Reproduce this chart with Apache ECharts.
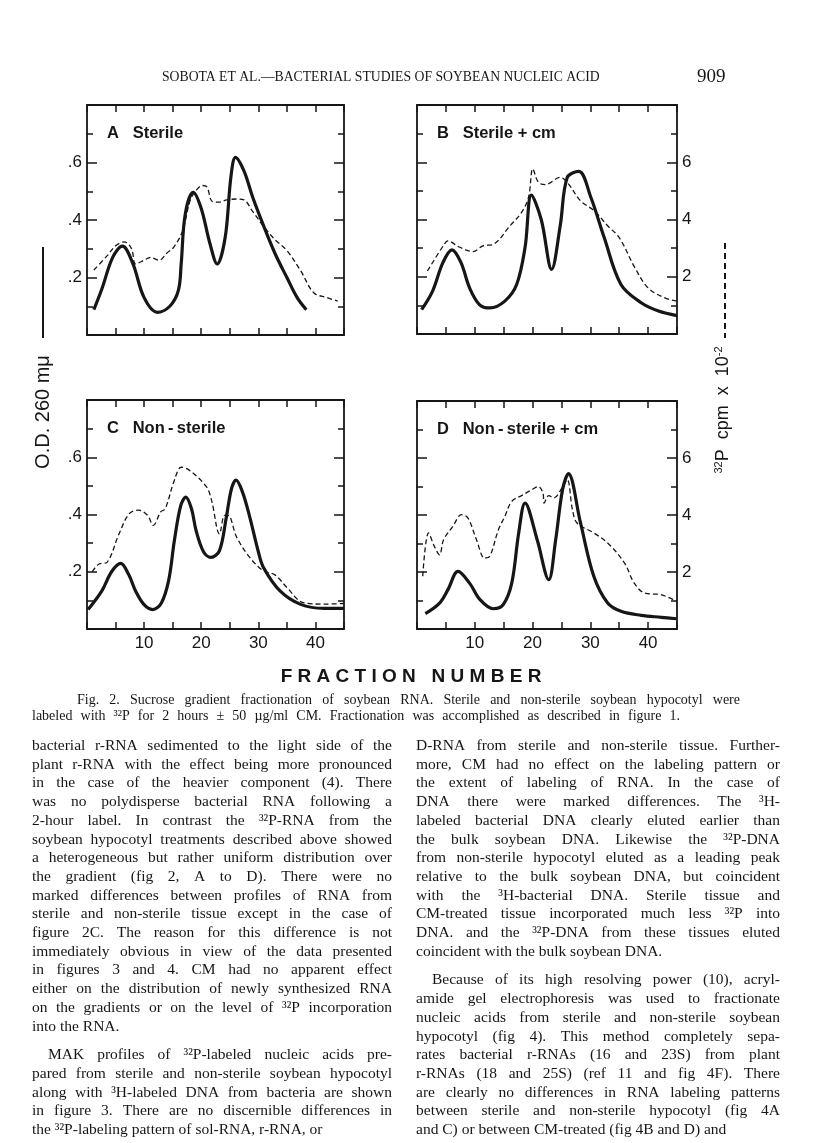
<!DOCTYPE html>
<html>
<head>
<meta charset="utf-8">
<script src="https://cdn.jsdelivr.net/npm/echarts@6/dist/echarts.min.js"></script>
<style>
  html, body { margin: 0; padding: 0; background: #fff; }
  #chart { width: 816px; height: 1143px; }
</style>
</head>
<body>
<div id="chart"></div>
<script>
// fraction number, O.D. 260 (solid) and 32P cpm x 10^-2 (dashed)
const aOdX = [1.2, 2.6, 4.5, 6.2, 8.0, 10.0, 12.3, 14.5, 16.0, 16.5, 17.2, 18.6, 20.0, 21.5, 22.8, 24.2, 25.2, 26.0, 27.5, 29.0, 31.0, 33.0, 35.0, 36.8, 38.4];
const aOdY = [0.088, 0.16, 0.27, 0.309, 0.25, 0.13, 0.079, 0.10, 0.155, 0.25, 0.42, 0.496, 0.44, 0.32, 0.247, 0.34, 0.55, 0.618, 0.57, 0.48, 0.376, 0.28, 0.20, 0.13, 0.088];
const aCpmX = [1.2, 3.5, 5.0, 6.5, 7.8, 8.5, 10.0, 11.1, 12.6, 14.0, 15.2, 16.7, 18.1, 19.2, 20.2, 21.0, 21.9, 23.0, 24.5, 26.3, 27.5, 29.0, 31.0, 33.0, 35.0, 37.4, 39.7, 42.0, 43.9];
const aCpmY = [2.26, 2.75, 3.1, 3.24, 3.0, 2.47, 2.6, 2.7, 2.6, 2.85, 3.06, 3.6, 4.7, 5.05, 5.2, 5.15, 4.65, 4.62, 4.7, 4.73, 4.7, 4.3, 3.76, 3.3, 2.94, 2.24, 1.47, 1.3, 1.18];

const bOdX = [0.8, 2.7, 4.5, 6.05, 7.6, 9.1, 10.8, 12.6, 15.2, 17.25, 18.7, 19.8, 21.5, 23.3, 24.8, 26.0, 28.0, 30.1, 32.4, 35.3, 38.8, 41.8, 45.0];
const bOdY = [0.085, 0.15, 0.25, 0.294, 0.25, 0.161, 0.103, 0.091, 0.115, 0.173, 0.302, 0.485, 0.40, 0.226, 0.38, 0.547, 0.568, 0.477, 0.337, 0.173, 0.109, 0.08, 0.064];
const bCpmX = [1.8, 4.7, 5.3, 7.3, 9.7, 11.4, 13.2, 16.1, 18.1, 19.3, 20.05, 21.0, 22.2, 24.8, 26.3, 28.3, 30.7, 33.0, 35.0, 37.7, 40.0, 42.9, 45.0];
const bCpmY = [2.2, 3.13, 3.25, 3.04, 2.88, 3.08, 3.13, 3.78, 4.25, 4.77, 5.77, 5.3, 5.22, 5.47, 5.22, 4.65, 4.3, 3.78, 3.37, 2.32, 1.61, 1.26, 1.15];

const cOdX = [0.2, 2.6, 4.3, 5.9, 7.3, 8.5, 10.0, 11.5, 13.0, 14.3, 15.3, 16.4, 17.3, 18.3, 19.1, 20.4, 21.7, 23.2, 24.4, 25.3, 26.1, 27.2, 28.5, 30.0, 30.9, 33.8, 37.4, 41.5, 45.0];
const cOdY = [0.068, 0.133, 0.20, 0.229, 0.19, 0.133, 0.085, 0.068, 0.09, 0.17, 0.309, 0.43, 0.461, 0.42, 0.344, 0.27, 0.25, 0.274, 0.391, 0.49, 0.52, 0.48, 0.391, 0.27, 0.215, 0.133, 0.086, 0.072, 0.072];
const cCpmX = [0.9, 2.1, 3.5, 5.6, 7.4, 9.1, 10.6, 11.6, 12.9, 13.7, 15.3, 16.5, 17.9, 20.9, 21.8, 23.2, 24.1, 24.7, 26.2, 28.5, 30.9, 32.9, 35.0, 37.9, 41.5, 45.0];
const cCpmY = [2.0, 2.27, 2.33, 3.32, 4.03, 4.15, 3.97, 3.62, 4.09, 4.2, 5.2, 5.65, 5.55, 4.97, 4.5, 3.32, 3.97, 3.97, 3.21, 2.5, 2.03, 1.89, 1.45, 0.92, 0.87, 0.89];

const dOdX = [1.45, 3.9, 5.35, 7.1, 9.1, 10.9, 13.2, 14.9, 16.4, 17.6, 18.7, 20.8, 22.8, 24.0, 25.2, 26.2, 28.3, 30.6, 33.0, 35.3, 38.8, 42.3, 44.9];
const dOdY = [0.054, 0.091, 0.138, 0.202, 0.161, 0.103, 0.071, 0.085, 0.161, 0.337, 0.442, 0.313, 0.173, 0.313, 0.49, 0.545, 0.372, 0.185, 0.091, 0.062, 0.048, 0.041, 0.036];
const dCpmX = [0.99, 2.0, 3.0, 3.9, 4.6, 6.2, 7.7, 8.8, 10.3, 11.7, 12.6, 14.1, 15.2, 16.4, 18.1, 19.9, 21.0, 21.8, 22.0, 22.8, 23.7, 25.1, 26.0, 26.9, 27.7, 30.6, 33.0, 35.9, 37.6, 39.4, 42.3, 44.9];
const dCpmY = [1.85, 3.37, 2.9, 2.6, 3.13, 3.6, 4.01, 3.9, 3.13, 2.49, 2.55, 3.49, 3.95, 4.48, 4.68, 4.89, 5.0, 4.77, 4.42, 4.68, 4.6, 4.95, 5.24, 4.19, 3.72, 3.37, 3.02, 2.32, 1.61, 1.26, 1.2, 0.97];

const panelNames = ['A   Sterile', 'B   Sterile + cm', 'C   Non\u2009-\u2009sterile', 'D   Non\u2009-\u2009sterile + cm'];
const fractionTicks = [10, 20, 30, 40];
const odTickValues = [0.2, 0.4, 0.6];
const odTickLabels = ['.2', '.4', '.6'];
const cpmTickValues = [2, 4, 6];
const cpmTickLabels = ['2', '4', '6'];

const leftColumn = [
  'bacterial r-RNA sedimented to the light side of the',
  'plant r-RNA with the effect being more pronounced',
  'in the case of the heavier component (4).  There',
  'was no polydisperse bacterial RNA following a',
  '2-hour label.  In contrast the ³²P-RNA from the',
  'soybean hypocotyl treatments described above showed',
  'a heterogeneous but rather uniform distribution over',
  'the gradient (fig 2, A to D).  There were no',
  'marked differences between profiles of RNA from',
  'sterile and non-sterile tissue except in the case of',
  'figure 2C.  The reason for this difference is not',
  'immediately obvious in view of the data presented',
  'in figures 3 and 4.  CM had no apparent effect',
  'either on the distribution of newly synthesized RNA',
  'on the gradients or on the level of ³²P incorporation',
  'into the RNA.',
  '',
  'MAK profiles of ³²P-labeled nucleic acids pre-',
  'pared from sterile and non-sterile soybean hypocotyl',
  'along with ³H-labeled DNA from bacteria are shown',
  'in figure 3.  There are no discernible differences in',
  'the ³²P-labeling pattern of sol-RNA, r-RNA, or'
];
const rightColumn = [
  'D-RNA from sterile and non-sterile tissue.  Further-',
  'more, CM had no effect on the labeling pattern or',
  'the extent of labeling of RNA.  In the case of',
  'DNA there were marked differences.  The ³H-',
  'labeled bacterial DNA clearly eluted earlier than',
  'the bulk soybean DNA.  Likewise the ³²P-DNA',
  'from non-sterile hypocotyl eluted as a leading peak',
  'relative to the bulk soybean DNA, but coincident',
  'with the ³H-bacterial DNA.  Sterile tissue and',
  'CM-treated tissue incorporated much less ³²P into',
  'DNA. and the ³²P-DNA from these tissues eluted',
  'coincident with the bulk soybean DNA.',
  '',
  'Because of its high resolving power (10), acryl-',
  'amide gel electrophoresis was used to fractionate',
  'nucleic acids from sterile and non-sterile soybean',
  'hypocotyl (fig 4).  This method completely sepa-',
  'rates bacterial r-RNAs (16 and 23S) from plant',
  'r-RNAs (18 and 25S) (ref 11 and fig 4F).  There',
  'are clearly no differences in RNA labeling patterns',
  'between sterile and non-sterile hypocotyl (fig 4A',
  'and C) or between CM-treated (fig 4B and D) and'
];
const captionLines = [
  'Fig. 2.  Sucrose gradient fractionation of soybean RNA.  Sterile and non-sterile soybean hypocotyl were',
  'labeled with ³²P for 2 hours ± 50 µg/ml CM.  Fractionation was accomplished as described in figure 1.'
];

const SANS = "'Liberation Sans', Arial, sans-serif";
const SERIF = "'Liberation Serif', 'Times New Roman', serif";
const ink = '#161616';

// panel frames (px)
const grids = [
  { left: 87, top: 105, width: 257, height: 230 },
  { left: 417, top: 105, width: 260, height: 229 },
  { left: 87, top: 400, width: 257, height: 229 },
  { left: 417, top: 401, width: 260, height: 228 }
];

const zip = (xs, ys) => xs.map((x, i) => [x, ys[i]]);
const pick = (vals, labels) => v => {
  const i = vals.findIndex(t => Math.abs(t - v) < 1e-6);
  return i < 0 ? '' : labels[i];
};

const frameLine = { show: true, onZero: false, lineStyle: { color: ink, width: 1.8 } };

function fractionAxis(g, pos, labels) {
  return {
    type: 'value', gridIndex: g, position: pos, min: 0, max: 45, interval: 5,
    axisLine: frameLine,
    axisTick: { show: true, inside: true, length: 7, lineStyle: { color: ink, width: 1.5 } },
    axisLabel: {
      show: labels, margin: 6, color: ink, fontFamily: SANS, fontSize: 17,
      formatter: v => fractionTicks.includes(v) ? String(v) : ''
    },
    splitLine: { show: false }
  };
}

function sideAxis(g, pos, max, interval, labels, vals, texts) {
  return {
    type: 'value', gridIndex: g, position: pos, min: 0, max: max, interval: interval,
    axisLine: frameLine,
    axisTick: { show: true, inside: true, length: 10, lineStyle: { color: ink, width: 1.5 } },
    minorTick: { show: true, splitNumber: 2, length: 6, lineStyle: { color: ink, width: 1.5 } },
    axisLabel: {
      show: labels, margin: 5, color: ink, fontFamily: SANS, fontSize: 17,
      formatter: pick(vals, texts)
    },
    splitLine: { show: false },
    minorSplitLine: { show: false }
  };
}

const xAxes = [], yAxes = [], series = [];
const odSets = [[aOdX, aOdY], [bOdX, bOdY], [cOdX, cOdY], [dOdX, dOdY]];
const cpmSets = [[aCpmX, aCpmY], [bCpmX, bCpmY], [cCpmX, cCpmY], [dCpmX, dCpmY]];

grids.forEach((g, i) => {
  const bottomRow = i >= 2;
  const rightCol = i % 2 === 1;
  xAxes.push(fractionAxis(i, 'bottom', bottomRow));
  xAxes.push(fractionAxis(i, 'top', false));
  yAxes.push(sideAxis(i, 'left', 0.8, 0.2, !rightCol, odTickValues, odTickLabels));
  yAxes.push(sideAxis(i, 'right', 8, 2, rightCol, cpmTickValues, cpmTickLabels));
  series.push({
    type: 'line', xAxisIndex: 2 * i, yAxisIndex: 2 * i,
    data: zip(odSets[i][0], odSets[i][1]),
    smooth: 0.35, showSymbol: false, z: 3,
    lineStyle: { color: ink, width: 3.2 }
  });
  series.push({
    type: 'line', xAxisIndex: 2 * i, yAxisIndex: 2 * i + 1,
    data: zip(cpmSets[i][0], cpmSets[i][1]),
    smooth: 0.35, showSymbol: false, z: 2,
    lineStyle: { color: ink, width: 1.3, type: [5, 3] }
  });
});

// text helpers
const measure = document.createElement('canvas').getContext('2d');
function textEl(text, x, y, font, align) {
  align = align || 'left';
  return {
    type: 'text', x: x, y: y, silent: true,
    style: { text: text, font: font, fill: ink, textAlign: align, textVerticalAlign: 'middle', align: align, verticalAlign: 'middle' }
  };
}
function lineEls(text, x0, width, y, font, justify) {
  if (!text) return [];
  if (!justify) return [textEl(text, x0, y, font)];
  measure.font = font;
  const words = text.split(/\s+/);
  const w = words.map(s => measure.measureText(s).width);
  const gap = (width - w.reduce((a, b) => a + b, 0)) / (words.length - 1);
  const out = [];
  let x = x0;
  words.forEach((s, k) => { out.push(textEl(s, x, y, font)); x += w[k] + gap; });
  return out;
}
function columnEls(lines, x0, width, y0, pitch, gapExtra, indent) {
  const font = '15.5px ' + SERIF;
  const out = [];
  let y = y0;
  let paraStart = true;
  lines.forEach((t, k) => {
    if (!t) { y += gapExtra; paraStart = true; return; }
    const next = lines[k + 1];
    const last = next === undefined || next === '';
    const ind = paraStart && k > 0 ? indent : 0;
    out.push(...lineEls(t, x0 + ind, width - ind, y, font, !last));
    paraStart = false;
    y += pitch;
  });
  return out;
}

const graphics = [];
panelNames.forEach((name, i) => {
  const g = grids[i];
  graphics.push(textEl(name, g.left + 20, g.top + 28, 'bold 16.5px ' + SANS));
});
graphics.push(textEl('SOBOTA ET AL.—BACTERIAL STUDIES OF SOYBEAN NUCLEIC ACID', 162, 77, '13.7px ' + SERIF));
graphics.push(textEl('909', 697, 77, '19px ' + SERIF));
const odTitle = textEl('O.D. 260 mμ', 43, 412, '20px ' + SANS, 'center');
odTitle.rotation = Math.PI / 2;
graphics.push(odTitle);
graphics.push({ type: 'line', silent: true, shape: { x1: 43, y1: 247, x2: 43, y2: 338 }, style: { stroke: ink, lineWidth: 2 } });
graphics.push({
  type: 'text', x: 723, y: 410, rotation: Math.PI / 2, silent: true,
  style: {
    text: '{s|32}P  cpm  x  10{s|-2}', font: '18px ' + SANS, fill: ink,
    textAlign: 'center', textVerticalAlign: 'middle', align: 'center', verticalAlign: 'middle',
    rich: { s: { fontSize: 11, fontFamily: SANS, verticalAlign: 'top', padding: [0, 0, 9, 0] } }
  }
});
graphics.push({ type: 'line', silent: true, shape: { x1: 725, y1: 243, x2: 725, y2: 338 }, style: { stroke: ink, lineWidth: 2, lineDash: [6, 4] } });
graphics.push(textEl('F R A C T I O N   N U M B E R', 411, 677, 'bold 19px ' + SANS, 'center'));
graphics.push(...lineEls(captionLines[0], 77, 663, 700, '14px ' + SERIF, true));
graphics.push(...lineEls(captionLines[1], 32, 648, 716, '14px ' + SERIF, true));
graphics.push(...columnEls(leftColumn, 32, 360, 746, 18.7, 10, 16));
graphics.push(...columnEls(rightColumn, 416, 364, 746, 18.7, 10, 16));

const chart = echarts.init(document.getElementById('chart'));
chart.setOption({
  animation: false,
  backgroundColor: '#fff',
  grid: grids.map(g => Object.assign({ containLabel: false }, g)),
  xAxis: xAxes,
  yAxis: yAxes,
  series: series,
  graphic: graphics
});
</script>
</body>
</html>
